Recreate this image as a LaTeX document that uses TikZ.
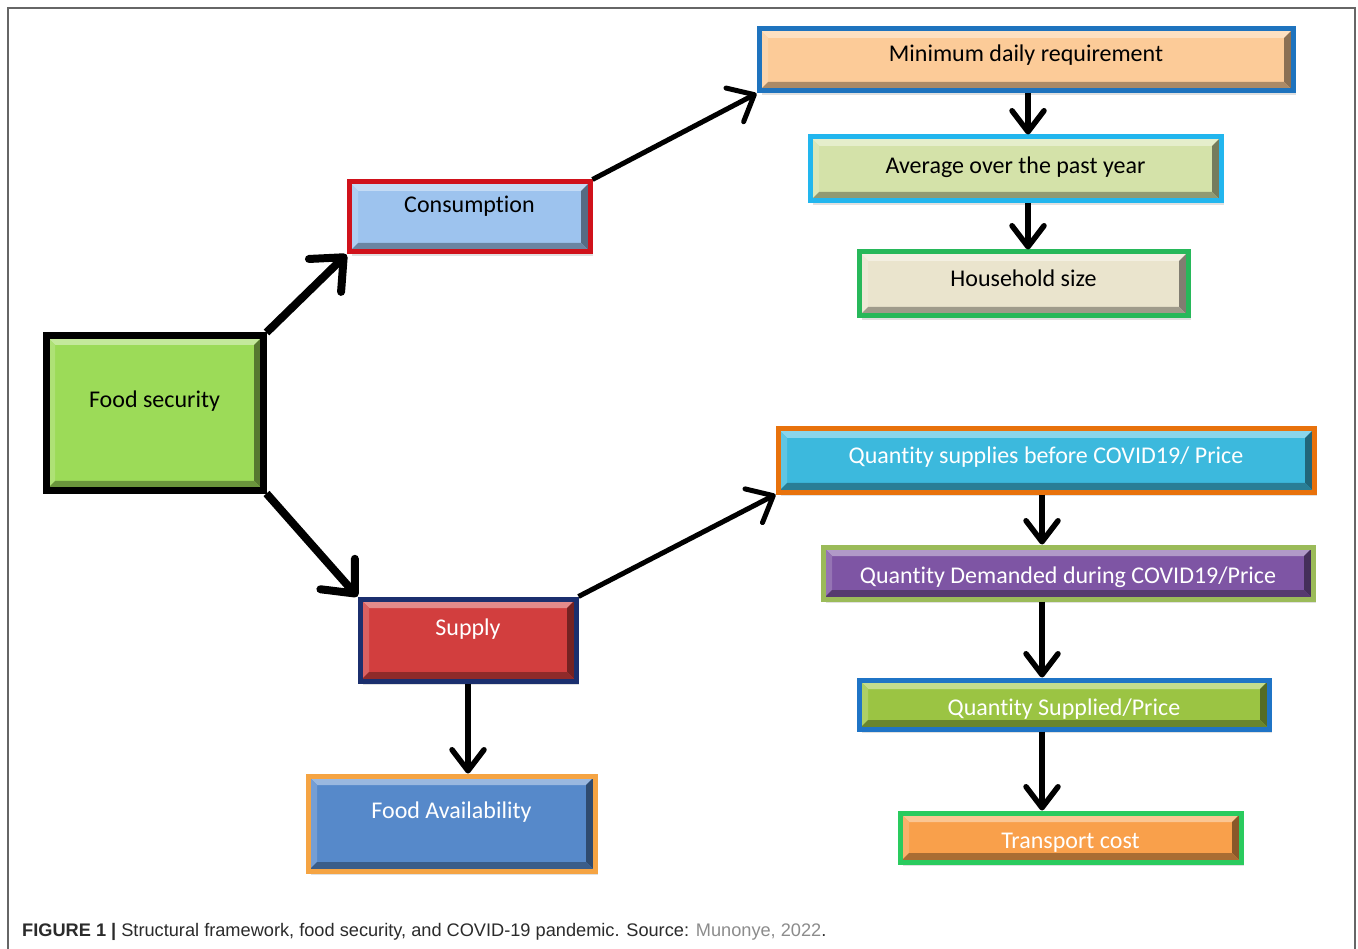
\documentclass[tikz,border=0pt]{standalone}
\usepackage{fontspec}
\setmainfont{Carlito}[Ligatures=NoCommon,RawFeature={-liga;-clig;-calt;-dlig}]
\newfontfamily\capfont{Liberation Sans}
\usetikzlibrary{arrows.meta,fit,calc}
\definecolor{fsFill}{HTML}{9CDB58}
\definecolor{consFill}{HTML}{9DC3EE}
\definecolor{consBd}{HTML}{D0121B}
\definecolor{minFill}{HTML}{FCCB98}
\definecolor{minBd}{HTML}{1E73BE}
\definecolor{avgFill}{HTML}{D4E2A9}
\definecolor{avgBd}{HTML}{22B6EE}
\definecolor{hhFill}{HTML}{EAE4CD}
\definecolor{hhBd}{HTML}{27B85A}
\definecolor{qbFill}{HTML}{3CB9DD}
\definecolor{qbBd}{HTML}{E8720C}
\definecolor{demFill}{HTML}{7E55A4}
\definecolor{demBd}{HTML}{9BBB59}
\definecolor{qsFill}{HTML}{9BC443}
\definecolor{qsBd}{HTML}{1F74C6}
\definecolor{tcFill}{HTML}{F9A04B}
\definecolor{tcBd}{HTML}{2ACB5E}
\definecolor{supFill}{HTML}{D23E3E}
\definecolor{supBd}{HTML}{1B2F6E}
\definecolor{faFill}{HTML}{5689CA}
\definecolor{faBd}{HTML}{F5A443}
\definecolor{frameGray}{HTML}{666666}
\definecolor{capText}{HTML}{2B2B2B}
\definecolor{capLink}{HTML}{8C8C8C}
% #1 name, #2 x1, #3 y1, #4 x2, #5 y2, #6 border style, #7 fill, #8 text, #9 baseline
\newcommand\bevbox[9]{%
  \fill[black,opacity=0.12] ({#2+3},{#3+4}) rectangle ({#4+3},{#5+4});
  \fill[#7] (#2,#3) rectangle (#4,#5);
  \fill[#7!60!white] (#2,#3) -- (#4,#3) -- ({#4-9},{#3+9}) -- ({#2+9},{#3+9}) -- cycle;
  \fill[#7!82!white] (#2,#3) -- ({#2+9},{#3+9}) -- ({#2+9},{#5-9}) -- (#2,#5) -- cycle;
  \fill[#7!55!black] (#4,#3) -- (#4,#5) -- ({#4-9},{#5-9}) -- ({#4-9},{#3+9}) -- cycle;
  \fill[#7!68!black] (#2,#5) -- (#4,#5) -- ({#4-9},{#5-9}) -- ({#2+9},{#5-9}) -- cycle;
  \begin{scope}
    \clip ({#2+9},{#3+9}) rectangle ({#4-9},{#5-9});
    \node[boxtext] (#1t) at ({(#2+#4)/2},#9) {#8};
  \end{scope}
  \node[fit={(#2,#3) (#4,#5)}, inner sep=0pt, line width=5pt, draw=#6] (#1) {};
}
\begin{document}
\begin{tikzpicture}[x=1pt,y=-1pt,
  boxtext/.style={font=\fontsize{24}{28}\selectfont, anchor=base, inner sep=0pt},
  farrow/.style={line width=8pt, -{Straight Barb[length=26pt,width=46pt,round]}},
  marrow/.style={line width=5pt, -{Straight Barb[length=22pt,width=38pt,round]}},
  varrow/.style={line width=5.5pt, -{Straight Barb[length=21pt,width=32pt,round]}},
  framestyle/.style={draw=frameGray, line width=1.2pt}
]
\useasboundingbox (0,0) rectangle (1358,949);
\fill[white] (0,0) rectangle (1358,949);
\draw[framestyle] (8,949) -- (8,8) -- (1355,8) -- (1355,949);

\bevbox{fs}{46}{336}{263}{490}{black,line width=7pt}{fsFill}{Food security}{408}
\bevbox{cons}{349}{182}{590}{252}{consBd}{consFill}{Consumption}{213}
\bevbox{min}{759}{29}{1293}{91}{minBd}{minFill}{Minimum daily requirement}{62}
\bevbox{avg}{810}{137}{1221}{201}{avgBd}{avgFill}{Average over the past year}{174}
\bevbox{hh}{859}{252}{1188}{316}{hhBd}{hhFill}{Household size}{287}
\bevbox{qb}{778}{429}{1314}{492}{qbBd}{qbFill}{\color{white}Quantity supplies before COVID19/ Price}{464}
\bevbox{dem}{823}{547}{1313}{599}{demBd}{demFill}{\color{white}Quantity Demanded during COVID19/Price}{583}
\bevbox{qs}{859}{680}{1269}{729}{qsBd}{qsFill}{\color{white}Quantity Supplied/Price}{715}
\bevbox{tc}{900}{813}{1241}{862}{tcBd}{tcFill}{\color{white}Transport cost}{848}
\bevbox{sup}{360}{599}{576}{681}{supBd}{supFill}{\color{white}Supply}{635}
\bevbox{fa}{308}{776}{595}{871}{faBd}{faFill}{\color{white}Food Availability}{818}

\draw[farrow] (fs.north east) -- (cons.south west);
\draw[farrow] (fs.south east) -- (sup.north west);
\draw[marrow] (cons.north east) -- (min.south west);
\draw[marrow] (sup.north east) -- (qb.south west);

\coordinate (colA) at (1028,0);
\coordinate (colB) at (1042,0);
\draw[varrow] (min.south -| colA) -- (avg.north -| colA);
\draw[varrow] (avg.south -| colA) -- (hh.north -| colA);
\draw[varrow] (qb.south -| colB) -- (dem.north -| colB);
\draw[varrow] (dem.south -| colB) -- (qs.north -| colB);
\draw[varrow] (qs.south -| colB) -- (tc.north -| colB);
\draw[varrow] (sup.south) -- (fa.north -| sup.south);

\node[anchor=base west, inner sep=0pt, font=\capfont\fontsize{18.2}{22}\selectfont, text=capText] (cap) at (22,936)
  {\textbf{FIGURE 1 |} Structural framework, food security, and COVID-19 pandemic. Source: \textcolor{capLink}{Munonye, 2022}.};
\end{tikzpicture}
\end{document}
